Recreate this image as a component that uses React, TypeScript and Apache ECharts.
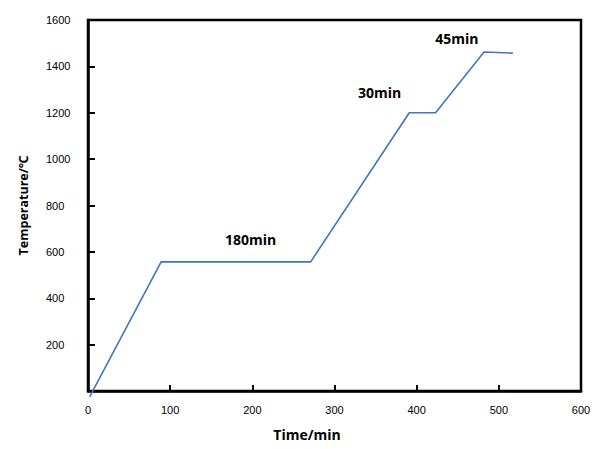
import React, { useEffect, useRef } from "react";
import * as echarts from "echarts";

const timeMin = [2, 89, 271, 391, 423, 482, 517];
const temperature = [-25, 557, 557, 1200, 1200, 1462, 1457];
const annotationText = ["180min", "30min", "45min"];
const annotationX = [198, 355, 449];
const annotationY = [655, 1289, 1521];
const xTicks = [0, 600, 100];
const yTicks = [0, 1600, 200];
const xName = "Time/min";
const yName = "Temperature/℃";

export default function App() {
  const ref = useRef<HTMLDivElement>(null);
  useEffect(() => {
    const chart = echarts.init(ref.current!, null, { renderer: "svg" });
    const font = "Liberation Sans, Arial, sans-serif";
    const boldFont = "Open Sans, Noto Sans, sans-serif";
    chart.setOption({
      animation: false,
      backgroundColor: "#fff",
      grid: {
        left: 88,
        top: 20,
        right: 25,
        bottom: 58,
        show: true,
        borderColor: "#000",
        borderWidth: 2.5,
      },
      graphic: [
        {
          type: "text",
          x: 307,
          y: 434,
          style: {
            text: xName,
            fontFamily: boldFont,
            fontWeight: "bold",
            fontSize: 14,
            fill: "#000",
            align: "center",
            verticalAlign: "middle",
          },
        },
      ],
      xAxis: {
        type: "value",
        min: xTicks[0],
        max: xTicks[1],
        interval: xTicks[2],
        axisLine: { lineStyle: { color: "#000", width: 2.5 } },
        axisTick: { inside: true, length: 6, lineStyle: { color: "#000", width: 2 } },
        axisLabel: { margin: 13, fontFamily: font, fontSize: 11, color: "#000" },
        splitLine: { show: false },
      },
      yAxis: {
        type: "value",
        min: yTicks[0],
        max: yTicks[1],
        interval: yTicks[2],
        name: yName,
        nameLocation: "middle",
        nameGap: 58,
        nameTextStyle: { fontFamily: boldFont, fontWeight: "bold", fontSize: 12.5, color: "#000" },
        axisLine: { lineStyle: { color: "#000", width: 2.5 } },
        axisTick: { inside: true, length: 7, lineStyle: { color: "#000", width: 2 } },
        axisLabel: {
          margin: 42,
          align: "left",
          fontFamily: font,
          fontSize: 11,
          color: "#000",
          formatter: (v: number) => (v === 0 ? "" : String(v)),
        },
        splitLine: { show: false },
      },
      series: [
        {
          type: "line",
          data: timeMin.map((t, i) => [t, temperature[i]]),
          symbol: "none",
          clip: false,
          lineStyle: { color: "#4472C4", width: 1.6 },
          markPoint: {
            symbol: "circle",
            symbolSize: 0,
            data: annotationText.map((txt, i) => ({
              coord: [annotationX[i], annotationY[i]],
              label: {
                show: true,
                formatter: txt,
                position: "inside",
                fontFamily: boldFont,
                fontWeight: "bold",
                fontSize: 14,
                color: "#000",
              },
            })),
          },
        },
      ],
    });
    return () => chart.dispose();
  }, []);
  return (
    <div
      ref={ref}
      style={{ position: "absolute", left: 0, top: 0, width: 606, height: 449 }}
    />
  );
}
